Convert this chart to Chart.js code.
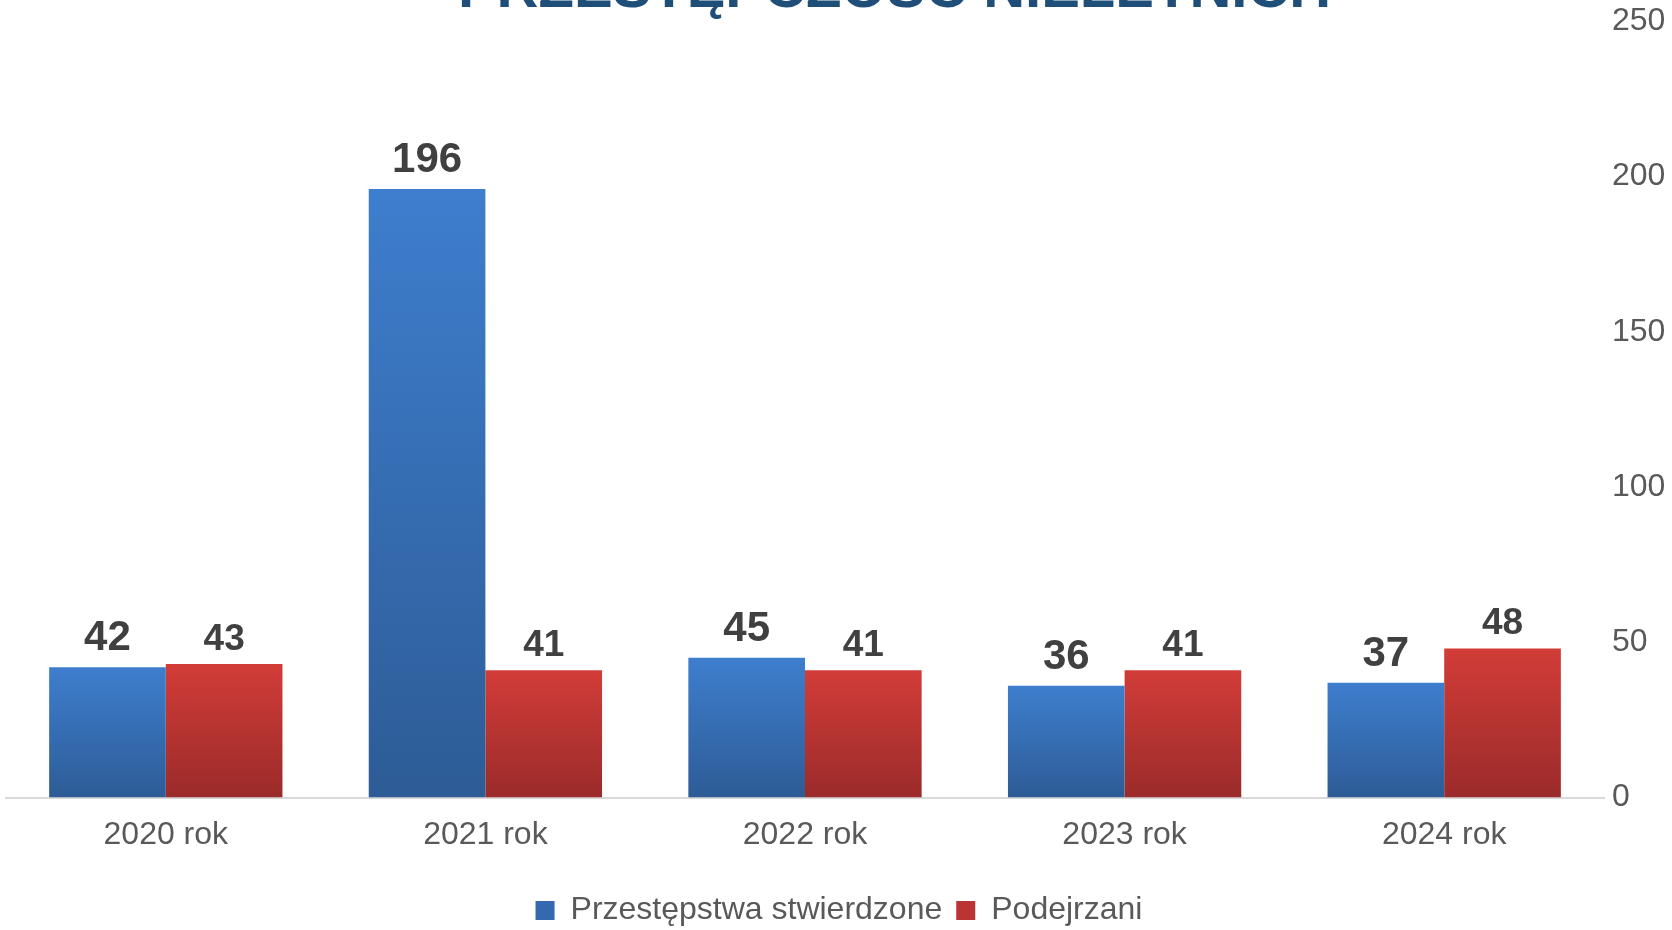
<!DOCTYPE html>
<html>
<head>
<meta charset="utf-8">
<script src="https://cdn.jsdelivr.net/npm/chart.js@4"></script>
<style>
    html, body { margin: 0; padding: 0; background: #fff; }
    #wrap { width: 1672px; height: 930px; position: relative; }
</style>
</head>
<body>
<div id="wrap"><canvas id="crimeChart"></canvas></div>
<script>
const chartTitle = 'PRZESTĘPCZOŚĆ NIELETNICH';
const years = ['2020 rok', '2021 rok', '2022 rok', '2023 rok', '2024 rok'];
const stwierdzone = [42, 196, 45, 36, 37];
const podejrzani = [43, 41, 41, 41, 48];
const yTicks = [0, 50, 100, 150, 200, 250];

const FONT = "'Liberation Sans', Arial, sans-serif";

// vertical gradient per bar, light at the top, dark at the base
function barGradient(top, bottom) {
    return (ctx) => {
        const chart = ctx.chart;
        if (ctx.dataIndex === undefined || !chart.chartArea) return bottom;
        const y = chart.scales.y;
        const v = ctx.dataset.data[ctx.dataIndex];
        const g = chart.ctx.createLinearGradient(0, y.getPixelForValue(v), 0, y.getPixelForValue(0));
        g.addColorStop(0, top);
        g.addColorStop(1, bottom);
        return g;
    };
}

// title partly cut off at the top edge, like in the source image
const titlePlugin = {
    id: 'cutTitle',
    afterDraw(chart) {
        const c = chart.ctx;
        c.save();
        c.font = 'bold 58px ' + FONT;
        c.fillStyle = '#1F4E79';
        c.textAlign = 'center';
        c.textBaseline = 'alphabetic';
        c.fillText(chartTitle, chart.width * 0.535, 7);
        c.restore();
    }
};

// value labels above bars
const valueLabels = {
    id: 'valueLabels',
    afterDatasetsDraw(chart) {
        const c = chart.ctx;
        c.save();
        c.fillStyle = '#404040';
        c.textAlign = 'center';
        c.textBaseline = 'alphabetic';
        chart.data.datasets.forEach((ds, i) => {
            const meta = chart.getDatasetMeta(i);
            c.font = 'bold ' + (i === 0 ? 42 : 37) + 'px ' + FONT;
            const off = i === 0 ? 17 : 14.5;
            meta.data.forEach((bar, j) => {
                c.fillText(ds.data[j], bar.x, bar.y - off);
            });
        });
        c.restore();
    }
};

const ctx = document.getElementById('crimeChart').getContext('2d');
const crimeChart = new Chart(ctx, {
    type: 'bar',
    data: {
        labels: years,
        datasets: [{
            label: 'Przestępstwa stwierdzone',
            data: stwierdzone,
            backgroundColor: barGradient('#3E7ECE', '#2D5C96'),
            categoryPercentage: 0.73,
            barPercentage: 1.0
        }, {
            label: 'Podejrzani',
            data: podejrzani,
            backgroundColor: barGradient('#D23C38', '#9A2B2A'),
            categoryPercentage: 0.73,
            barPercentage: 1.0
        }]
    },
    options: {
        responsive: true,
        maintainAspectRatio: false,
        animation: false,
        layout: {
            padding: { top: 21.3, left: 6, right: 0, bottom: -6.4 }
        },
        plugins: {
            title: { display: false },
            tooltip: { enabled: false },
            legend: {
                position: 'bottom',
                labels: {
                    color: '#595959',
                    font: { family: FONT, size: 32 },
                    boxWidth: 19,
                    boxHeight: 19,
                    padding: 14,
                    generateLabels(chart) {
                        const cols = ['#3469B0', '#B93432'];
                        return chart.data.datasets.map((ds, i) => ({
                            text: ds.label,
                            fillStyle: cols[i],
                            strokeStyle: cols[i],
                            lineWidth: 0,
                            fontColor: '#595959',
                            datasetIndex: i
                        }));
                    }
                }
            }
        },
        scales: {
            x: {
                grid: { display: false, drawTicks: false },
                border: { color: '#D9D9D9', width: 2 },
                afterFit(scale) {
                    scale.height += 8.4;
                },
                ticks: {
                    color: '#595959',
                    font: { family: FONT, size: 32 },
                    padding: 18
                }
            },
            y: {
                position: 'right',
                min: yTicks[0],
                max: yTicks[yTicks.length - 1],
                grid: { display: false, drawTicks: false },
                border: { display: false },
                afterBuildTicks(scale) {
                    scale.ticks = yTicks.map(v => ({ value: v }));
                },
                afterFit(scale) {
                    scale.width = 68;
                    scale.paddingTop = 0;
                },
                ticks: {
                    color: '#595959',
                    font: { family: FONT, size: 32 },
                    padding: 8
                }
            }
        }
    },
    plugins: [titlePlugin, valueLabels]
});
</script>
</body>
</html>
